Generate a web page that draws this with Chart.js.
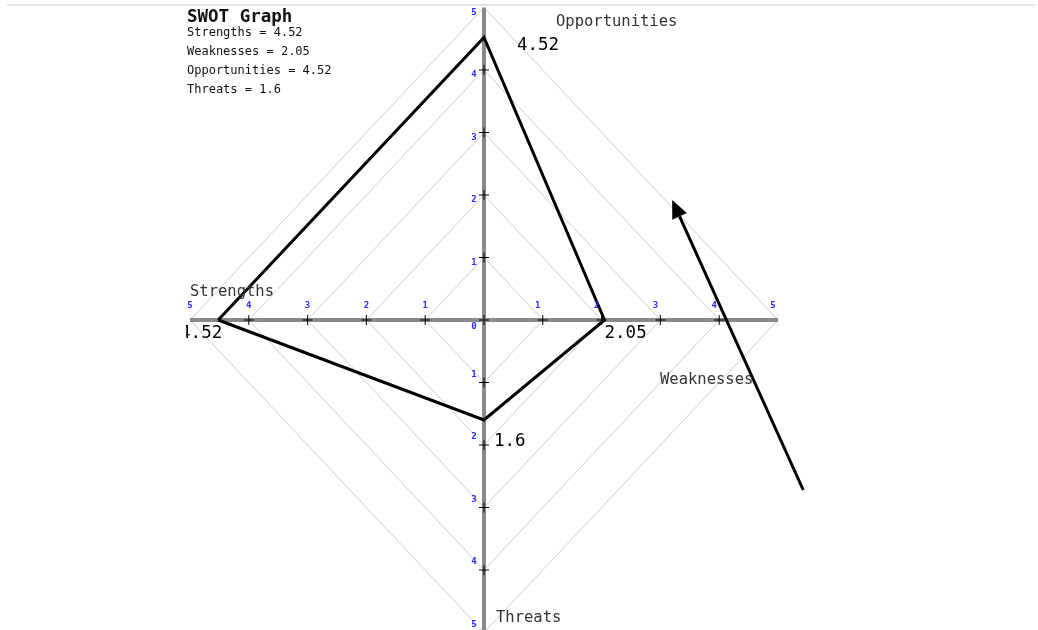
<!DOCTYPE html>
<html>
<head>
<meta charset="utf-8">
<script src="https://cdn.jsdelivr.net/npm/chart.js@4.4.0/dist/chart.umd.min.js"></script>
<style>
  body { margin: 0; background: #fff; }
  canvas { display: block; }
</style>
</head>
<body>
<canvas id="swot" width="1038" height="630"></canvas>
<script>
// SWOT scores
const categories = ["Strengths", "Weaknesses", "Opportunities", "Threats"];
const values = [4.52, 2.05, 4.52, 1.6];
// rings of the diamond grid and their tick labels
const levels = [1, 2, 3, 4, 5];
const tickLabels = ["1", "2", "3", "4", "5"];
// which way each category points (x, y)
const directions = [[-1, 0], [1, 0], [0, 1], [0, -1]];
// polygon goes round: S, O, W, T
const drawOrder = [0, 2, 1, 3];
// annotation arrow, in chart units (tail, tip)
const arrow = [[5.43, -2.72], [3.2, 1.92]];

const maxLevel = levels[levels.length - 1];
const mono = '"DejaVu Sans Mono", "Liberation Mono", monospace';

function pt(dir, v) {
    return { x: dir[0] * v, y: dir[1] * v };
}

// diamond rings
const gridSets = levels.map(k => ({
    data: [pt([1, 0], k), pt([0, 1], k), pt([-1, 0], k), pt([0, -1], k), pt([1, 0], k)],
    showLine: true,
    borderColor: "#cdcdcd",
    borderWidth: 1,
    pointRadius: 0,
    order: 3,
}));

// the two gray axes
const axisSets = [
    { data: [pt([-1, 0], maxLevel), pt([1, 0], maxLevel)] },
    { data: [pt([0, -1], maxLevel), pt([0, 1], maxLevel)] },
].map(d => Object.assign(d, {
    showLine: true,
    borderColor: "#8a8a8a",
    borderWidth: 4,
    pointRadius: 0,
    order: 2,
}));

// "+" ticks along the axes
const tickPts = [{ x: 0, y: 0 }];
levels.filter(k => k < maxLevel).forEach(k => {
    directions.forEach(d => tickPts.push(pt(d, k)));
});
const tickSet = {
    data: tickPts,
    showLine: false,
    pointStyle: "cross",
    pointRadius: 5,
    borderColor: "#000",
    borderWidth: 1,
    order: 1,
};

// the SWOT polygon
const polyPts = drawOrder.map(i => pt(directions[i], values[i]));
polyPts.push(polyPts[0]);
const polySet = {
    data: polyPts,
    showLine: true,
    borderColor: "#000",
    borderWidth: 3,
    pointRadius: 0,
    borderJoinStyle: "miter",
    order: 0,
};

const decorPlugin = {
    id: "decor",
    beforeDraw(chart) {
        const ctx = chart.ctx;
        ctx.save();
        ctx.fillStyle = "#fff";
        ctx.fillRect(0, 0, chart.width, chart.height);
        ctx.strokeStyle = "#e2e2e2";
        ctx.lineWidth = 2;
        ctx.beginPath();
        ctx.moveTo(7, 5);
        ctx.lineTo(chart.width - 3, 5);
        ctx.stroke();
        ctx.restore();
    },
    afterDatasetsDraw(chart) {
        const ctx = chart.ctx;
        const xs = chart.scales.x, ys = chart.scales.y;
        const px = v => xs.getPixelForValue(v);
        const py = v => ys.getPixelForValue(v);
        ctx.save();

        // blue tick numbers
        ctx.fillStyle = "#2a2aff";
        ctx.font = "bold 9px " + mono;
        ctx.textAlign = "center";
        ctx.textBaseline = "middle";
        levels.forEach((k, i) => {
            ctx.fillText(tickLabels[i], px(k) - 5, py(0) - 14);
            ctx.fillText(tickLabels[i], px(-k), py(0) - 14);
            ctx.fillText(tickLabels[i], px(0) - 10, py(k) + 5);
            ctx.fillText(tickLabels[i], px(0) - 10, py(-k) - 8);
        });
        ctx.fillText("0", px(0) - 10, py(0) + 7);

        // category names near the axis ends
        const nameOff = [[0, -28], [-118, 60], [72, 14], [12, -15]];
        ctx.fillStyle = "#333";
        ctx.font = "15.5px " + mono;
        ctx.textAlign = "left";
        categories.forEach((c, i) => {
            const d = directions[i];
            ctx.fillText(c, px(d[0] * maxLevel) + nameOff[i][0], py(d[1] * maxLevel) + nameOff[i][1]);
        });

        // value labels next to the polygon corners
        const valOff = [[4, 13, "right"], [0, 13, "left"], [33, 8, "left"], [10, 21, "left"]];
        ctx.fillStyle = "#000";
        ctx.font = "17.5px " + mono;
        categories.forEach((c, i) => {
            const d = directions[i];
            ctx.save();
            ctx.beginPath();
            ctx.rect(186, 0, chart.width, chart.height);
            ctx.clip();
            ctx.textAlign = valOff[i][2];
            ctx.fillText(String(values[i]), px(d[0] * values[i]) + valOff[i][0], py(d[1] * values[i]) + valOff[i][1]);
            ctx.restore();
        });

        // title block
        ctx.fillStyle = "#111";
        ctx.textAlign = "left";
        ctx.font = "bold 17.5px " + mono;
        ctx.fillText("SWOT Graph", 187, 17);
        ctx.font = "12px " + mono;
        categories.forEach((c, i) => {
            ctx.fillText(c + " = " + values[i], 187, 33 + i * 19);
        });

        // arrow annotation
        const tx = px(arrow[0][0]), ty = py(arrow[0][1]);
        const hx = px(arrow[1][0]), hy = py(arrow[1][1]);
        const ang = Math.atan2(hy - ty, hx - tx);
        const headLen = 18, headW = 8;
        const bx = hx - headLen * Math.cos(ang), by = hy - headLen * Math.sin(ang);
        ctx.strokeStyle = "#000";
        ctx.lineWidth = 3;
        ctx.beginPath();
        ctx.moveTo(tx, ty);
        ctx.lineTo(bx, by);
        ctx.stroke();
        ctx.fillStyle = "#000";
        ctx.beginPath();
        ctx.moveTo(hx, hy);
        ctx.lineTo(bx + headW * Math.sin(ang), by - headW * Math.cos(ang));
        ctx.lineTo(bx - headW * Math.sin(ang), by + headW * Math.cos(ang));
        ctx.closePath();
        ctx.fill();

        ctx.restore();
    },
};

new Chart(document.getElementById("swot"), {
    type: "scatter",
    data: { datasets: gridSets.concat(axisSets, [tickSet, polySet]) },
    options: {
        responsive: false,
        animation: false,
        devicePixelRatio: 1,
        layout: { padding: 0, autoPadding: false },
        plugins: { legend: { display: false }, tooltip: { enabled: false } },
        scales: {
            x: { type: "linear", display: false, min: -8.231, max: 9.422 },
            y: { type: "linear", display: false, min: -4.96, max: 5.12 },
        },
    },
    plugins: [decorPlugin],
});
</script>
</body>
</html>
